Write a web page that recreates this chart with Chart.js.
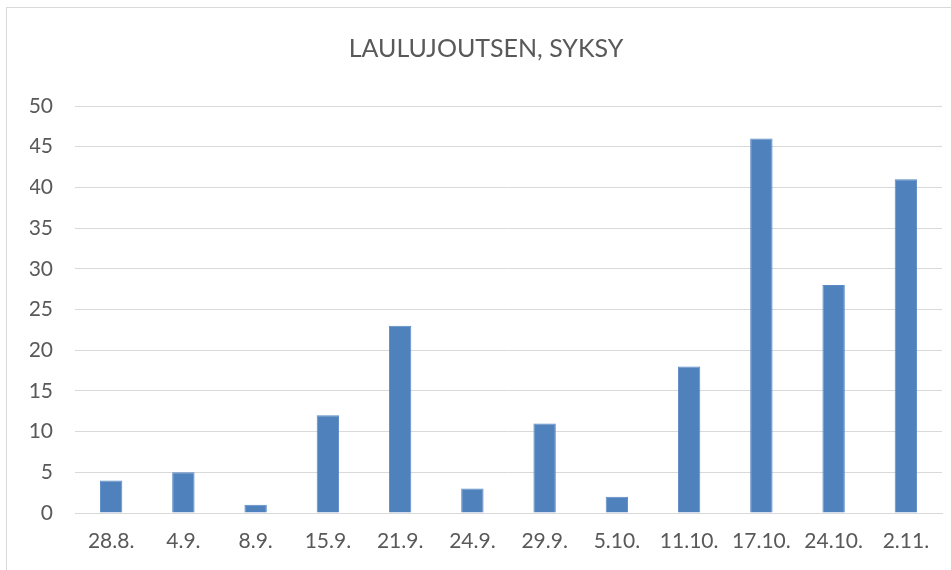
<!DOCTYPE html>
<html>
<head>
<meta charset="utf-8">
<script src="https://cdn.jsdelivr.net/npm/chart.js@4"></script>
<style>
  html, body { margin: 0; padding: 0; background: #fff; overflow: hidden; }
  .frame { position: absolute; left: 6px; top: 7px; width: 1000px; height: 600px; border: 1px solid #d9d9d9; }
  .wrap { position: absolute; left: 0; top: 0; width: 951px; height: 570px; }
</style>
</head>
<body>
<div class="frame"></div>
<div class="wrap"><canvas id="chart"></canvas></div>
<script>
const categories = ['28.8.', '4.9.', '8.9.', '15.9.', '21.9.', '24.9.', '29.9.', '5.10.', '11.10.', '17.10.', '24.10.', '2.11.'];
const counts = [4, 5, 1, 12, 23, 3, 11, 2, 18, 46, 28, 41];
const titleText = 'LAULUJOUTSEN, SYKSY';

const textColor = '#595959';
const gridColor = '#d9d9d9';

const ctx = document.getElementById('chart').getContext('2d');
new Chart(ctx, {
  type: 'bar',
  data: {
    labels: categories,
    datasets: [{
      data: counts,
      backgroundColor: '#4f81bd',
      borderColor: '#5a8ac4',
      borderWidth: 1,
      barPercentage: 0.31,
      categoryPercentage: 1
    }]
  },
  options: {
    responsive: true,
    maintainAspectRatio: false,
    animation: false,
    // left padding nudges the title right so it sits over the plot like the original
    layout: { padding: { left: 30, right: 9, top: 0, bottom: 0 } },
    plugins: {
      legend: { display: false },
      tooltip: { enabled: false },
      title: {
        display: true,
        text: titleText,
        color: textColor,
        font: { family: 'Lato', size: 25, weight: 'normal' },
        padding: { top: 34, bottom: 42 }
      }
    },
    scales: {
      x: {
        grid: { display: false, drawTicks: false },
        border: { color: gridColor, width: 1 },
        ticks: { color: textColor, font: { family: 'Lato', size: 21 }, padding: 16, maxRotation: 0 },
        afterFit: (scale) => { scale.height = 57; }
      },
      y: {
        min: 0,
        max: 50,
        grid: { color: gridColor, drawTicks: false },
        border: { display: false },
        ticks: { stepSize: 5, color: textColor, font: { family: 'Lato', size: 21 }, padding: 22 },
        afterFit: (scale) => { scale.width = 45; }
      }
    }
  }
});
</script>
</body>
</html>
